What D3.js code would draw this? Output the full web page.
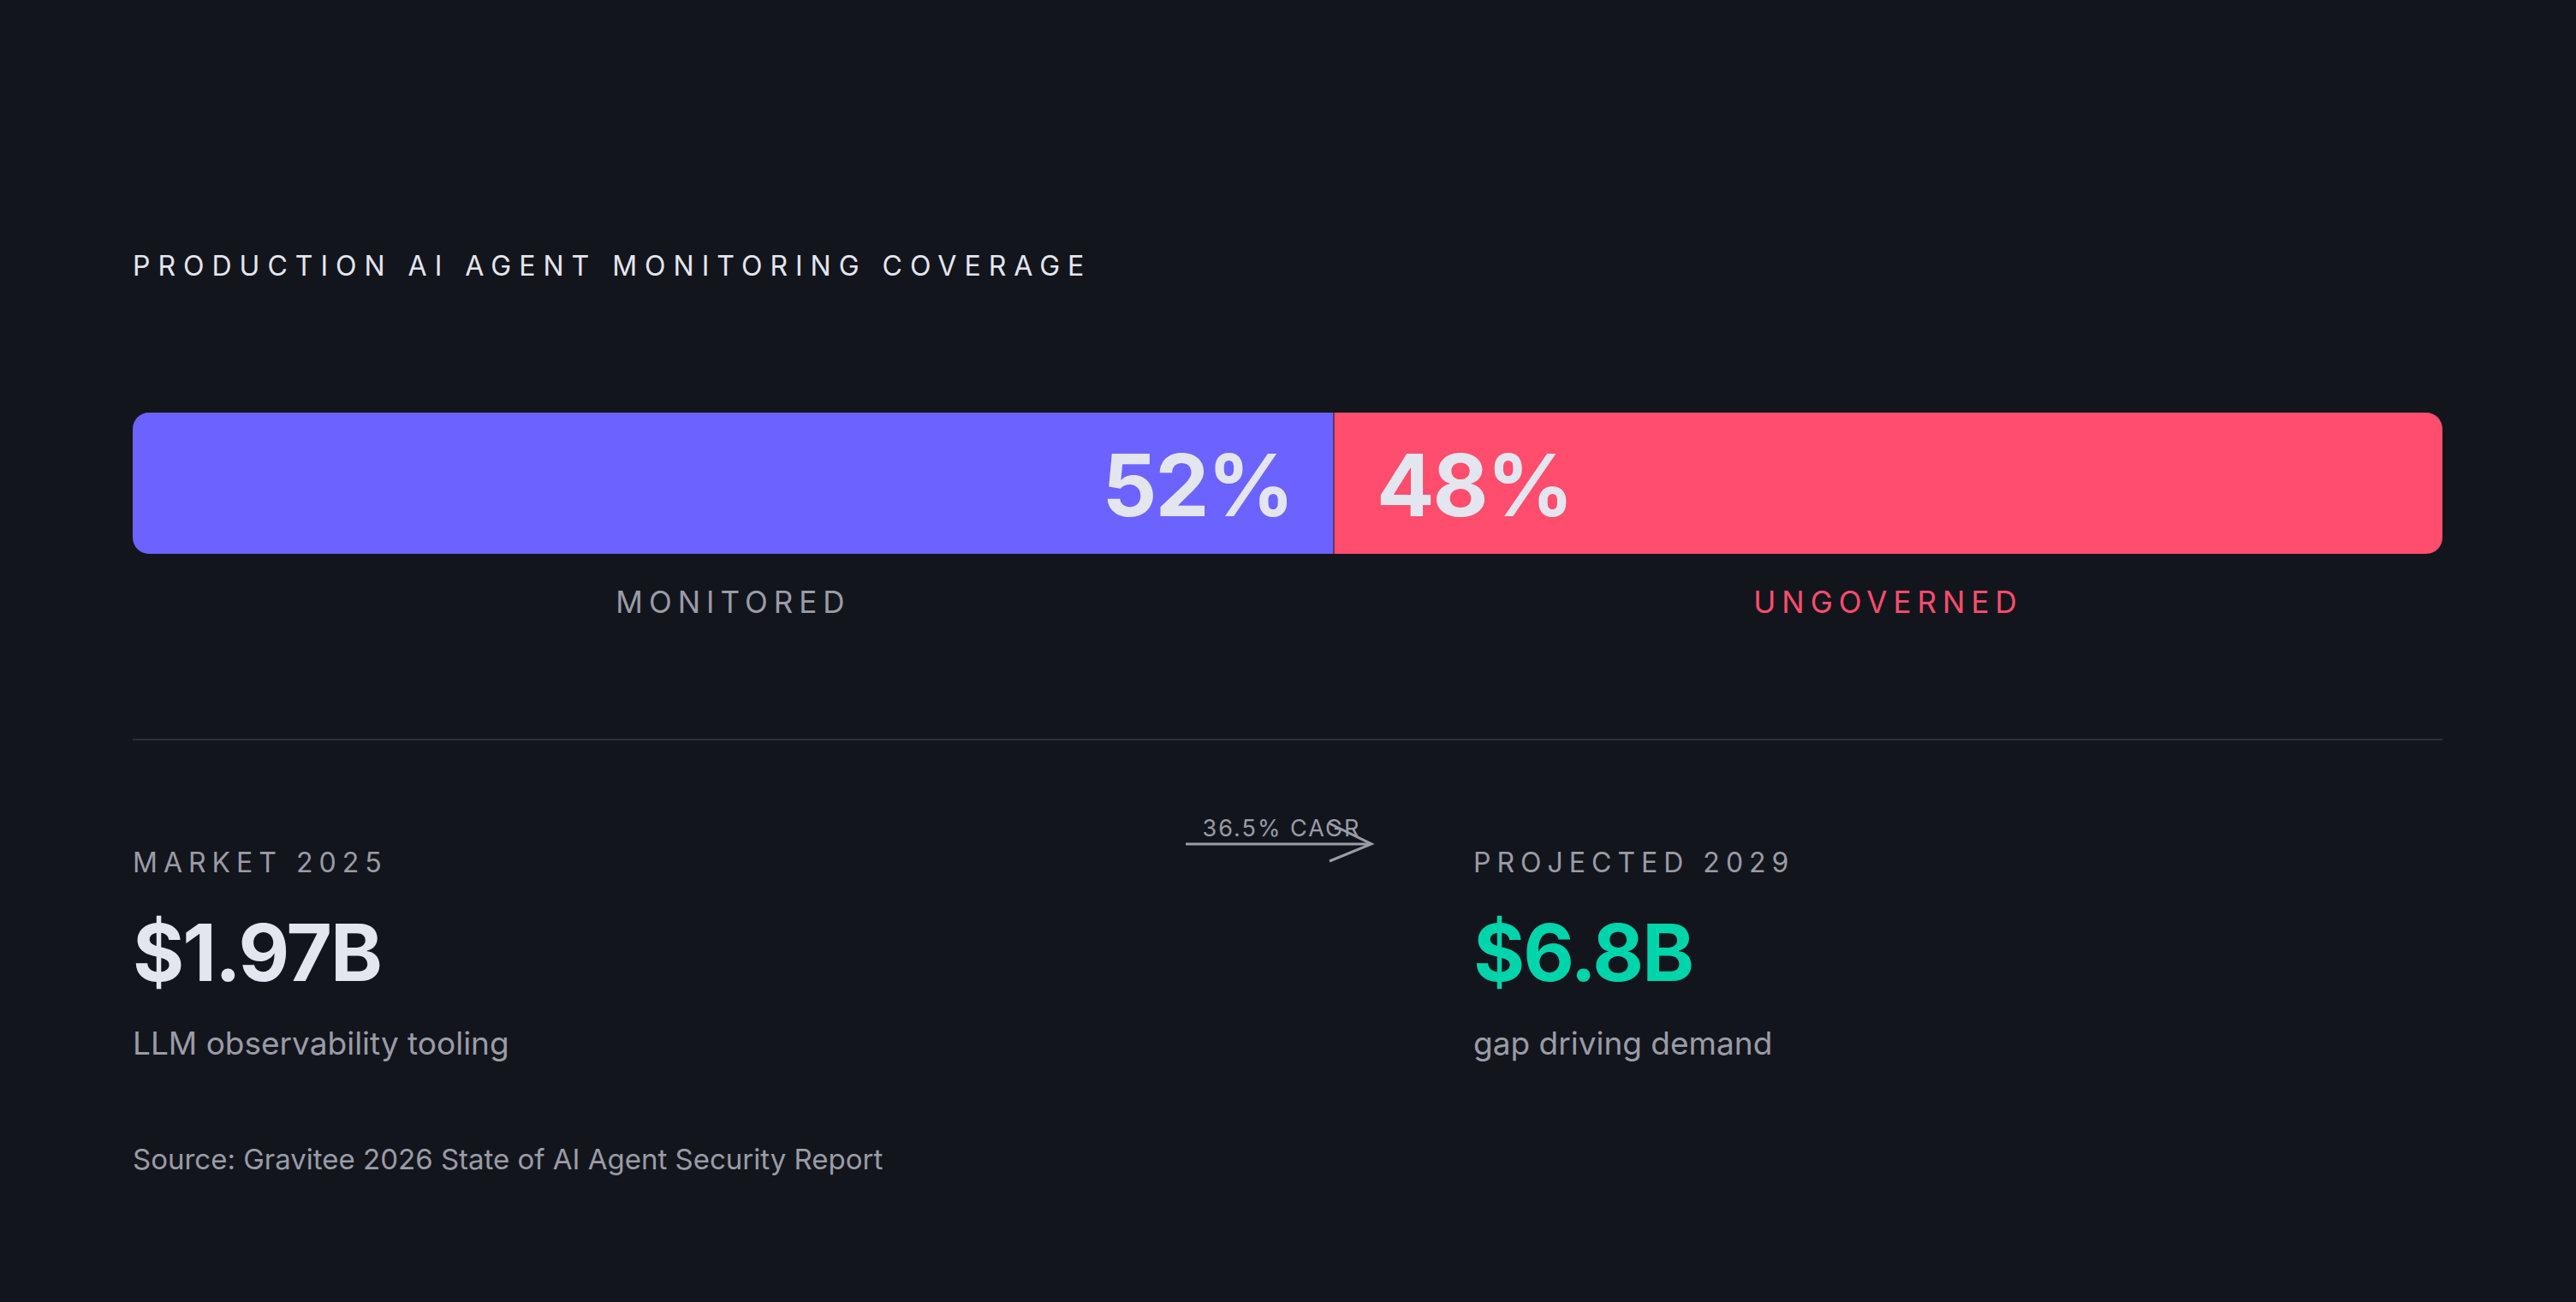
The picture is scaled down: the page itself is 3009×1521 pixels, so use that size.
<!DOCTYPE html>
<html><head><meta charset="utf-8">
<script src="https://cdn.jsdelivr.net/npm/d3@7.9.0/dist/d3.min.js"></script>
<style>body{margin:0;background:#13151d;}svg{display:block;font-family:Inter,"Noto Sans",sans-serif;}</style>
</head><body><svg id="c" width="3009" height="1521"></svg>
<script>
// coverage split
const segments = ['Monitored', 'Ungoverned'];
const shares = [52, 48];
const segColors = ['#6c63ff', '#ff4d6d'];
const labelColors = ['#9a9ca6', '#ff4d6d'];
// market numbers
const marketLabels = ['MARKET 2025', 'PROJECTED 2029'];
const marketValues = ['$1.97B', '$6.8B'];
const marketNotes = ['LLM observability tooling', 'gap driving demand'];
const cagr = '36.5% CAGR';

const svg = d3.select('#c');
svg.append('rect').attr('width', 3009).attr('height', 1521).attr('fill', '#13151d');

const x = d3.scaleLinear().domain([0, d3.sum(shares)]).range([155, 2853]);
let acc = 0;
const bars = shares.map((v, i) => { const d = {i, v, x0: acc, x1: acc + v}; acc += v; return d; });

svg.append('text').attr('x', 155).attr('y', 322).attr('fill', '#e4e6ef')
  .attr('font-size', 32).attr('letter-spacing', 9).text('PRODUCTION AI AGENT MONITORING COVERAGE');

// rounded clip for the whole bar
svg.append('clipPath').attr('id', 'bc').append('rect')
  .attr('x', x(0)).attr('y', 482).attr('width', x(100) - x(0)).attr('height', 165).attr('rx', 19);
const g = svg.append('g').attr('clip-path', 'url(#bc)');
g.selectAll('rect').data(bars).join('rect')
  .attr('x', d => x(d.x0)).attr('y', 482)
  .attr('width', d => x(d.x1) - x(d.x0)).attr('height', 165)
  .attr('fill', d => segColors[d.i]);
g.append('line').attr('x1', x(shares[0])).attr('x2', x(shares[0])).attr('y1', 482).attr('y2', 647)
  .attr('stroke', '#13151d').attr('stroke-opacity', 0.5).attr('stroke-width', 2);

svg.selectAll('.pct').data(bars).join('text')
  .attr('x', d => d.i === 0 ? x(d.x1) - 48 : x(d.x0) + 50)
  .attr('y', 603).attr('text-anchor', d => d.i === 0 ? 'end' : 'start')
  .attr('font-size', 100).attr('font-weight', 700).attr('fill', '#e4e6ef').attr('letter-spacing', -2)
  .text(d => d.v + '%');

svg.selectAll('.seg').data(bars).join('text')
  .attr('x', d => x((d.x0 + d.x1) / 2)).attr('y', 716).attr('text-anchor', 'middle')
  .attr('font-size', 35).attr('letter-spacing', 7).attr('fill', d => labelColors[d.i])
  .text(d => segments[d.i].toUpperCase());

svg.append('line').attr('x1', 155).attr('x2', 2853).attr('y1', 864).attr('y2', 864)
  .attr('stroke', '#2c2f39').attr('stroke-width', 2);

const cols = [155, 1721];
const valColors = ['#e4e6ef', '#00d4aa'];
marketLabels.forEach((t, i) => {
  svg.append('text').attr('x', cols[i]).attr('y', 1019).attr('font-size', 32).attr('letter-spacing', 7)
    .attr('fill', '#9a9ca6').text(t);
  svg.append('text').attr('x', cols[i]).attr('y', 1146).attr('font-size', 92).attr('font-weight', 700)
    .attr('letter-spacing', -2).attr('fill', valColors[i]).text(marketValues[i]);
  svg.append('text').attr('x', cols[i]).attr('y', 1232).attr('font-size', 37)
    .attr('fill', '#9a9ca6').text(marketNotes[i]);
});

// CAGR arrow
svg.append('line').attr('x1', 1385).attr('x2', 1600).attr('y1', 986).attr('y2', 986)
  .attr('stroke', '#9a9ca6').attr('stroke-width', 3);
svg.append('path').attr('d', 'M1553,962 L1602,986 L1553,1006').attr('fill', 'none')
  .attr('stroke', '#9a9ca6').attr('stroke-width', 3);
svg.append('text').attr('x', 1497).attr('y', 977).attr('text-anchor', 'middle').attr('font-size', 27)
  .attr('letter-spacing', 2).attr('fill', '#9a9ca6').text(cagr);

svg.append('text').attr('x', 155).attr('y', 1366).attr('font-size', 33).attr('fill', '#9a9ca6')
  .text('Source: Gravitee 2026 State of AI Agent Security Report');
</script></body></html>
